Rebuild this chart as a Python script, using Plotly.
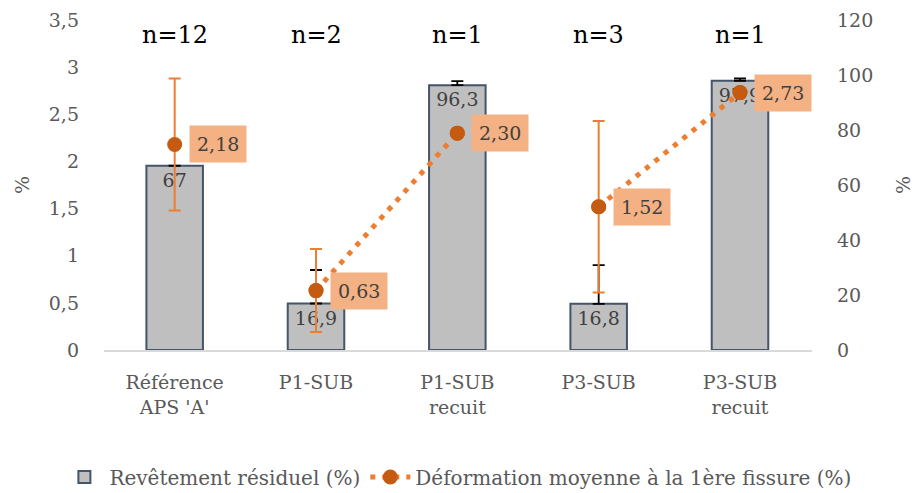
import plotly.graph_objects as go

categories = ["Référence<br>APS 'A'", "P1-SUB", "P1-SUB<br>recuit", "P3-SUB", "P3-SUB<br>recuit"]
n_counts = [12, 2, 1, 3, 1]
revetement = [67, 16.9, 96.3, 16.8, 97.9]
revetement_err = [0, 12.2, 1.5, 14.1, 0.9]
deformation = [2.18, 0.63, 2.30, 1.52, 2.73]
deformation_err = [0.70, 0.44, 0, 0.91, 0]
connected_pairs = [(1, 2), (3, 4)]

FONT = "DejaVu Serif"
GREY = "#595959"

def fr(v, nd):
    return f"{v:.{nd}f}".replace(".", ",")

fig = go.Figure()

fig.add_trace(go.Bar(
    x=categories, y=revetement, yaxis="y",
    name="Revêtement résiduel (%)",
    marker=dict(color="#BFBFBF", line=dict(color="#44546A", width=2)),
    width=0.4,
    text=[str(int(v)) if v == int(v) else fr(v, 1) for v in revetement],
    textposition="inside", insidetextanchor="end", constraintext="none",
    textfont=dict(family=FONT, size=19, color="#404040"),
    error_y=dict(type="data", symmetric=False, array=revetement_err,
                 arrayminus=[0] * len(revetement_err), color="black", thickness=1.8, width=6),
))

# dotted line only between connected pairs
lx, ly = [], []
for a, b in connected_pairs:
    if lx:
        lx.append(None); ly.append(None)
    lx += [categories[a], categories[b]]
    ly += [deformation[a], deformation[b]]

fig.add_trace(go.Scatter(
    x=lx, y=ly, yaxis="y2", mode="lines+markers", connectgaps=False,
    name="Déformation moyenne à la 1ère fissure (%)",
    line=dict(color="#ED7D31", width=5, dash="5px,7px"),
    marker=dict(color="#C55A11", size=15),
))

fig.add_trace(go.Scatter(
    x=categories, y=deformation, yaxis="y2", mode="markers", showlegend=False,
    marker=dict(color="#C55A11", size=15),
    error_y=dict(type="data", array=deformation_err, color="#ED7D31", thickness=2, width=6),
))

annotations = []
for c, v in zip(categories, deformation):
    annotations.append(dict(
        x=c, y=v, xref="x", yref="y2", text=fr(v, 2), showarrow=False,
        xanchor="left", yanchor="middle", xshift=14,
        bgcolor="#F4B183", borderpad=7,
        font=dict(family=FONT, size=19, color="#404040"),
    ))
for c, n in zip(categories, n_counts):
    annotations.append(dict(
        x=c, y=0.955, xref="x", yref="paper", text=f"n={n}", showarrow=False,
        xanchor="center", yanchor="middle",
        font=dict(family=FONT, size=24, color="black"),
    ))

fig.update_layout(
    width=915, height=493,
    margin=dict(l=104, r=103, t=20, b=143, autoexpand=False),
    paper_bgcolor="white", plot_bgcolor="white",
    font=dict(family=FONT, size=19, color=GREY),
    showlegend=True,
    legend=dict(orientation="h", x=-0.063, xanchor="left", y=-0.385, yanchor="middle",
                font=dict(family=FONT, size=20, color=GREY), itemwidth=40),
    xaxis=dict(type="category", showgrid=False, showline=True, linecolor="#D9D9D9", linewidth=2,
               ticks="", tickfont=dict(family=FONT, size=19, color=GREY), ticklabelstandoff=14,
               automargin=False),
    yaxis=dict(side="right", range=[0, 120], dtick=20, showgrid=False, zeroline=False, ticks="",
               tickfont=dict(family=FONT, size=19, color=GREY), ticklabelstandoff=24, automargin=False,
               title=dict(text="%", font=dict(family=FONT, size=19, color=GREY), standoff=24)),
    yaxis2=dict(side="left", overlaying="y", range=[0, 3.5], dtick=0.5, showgrid=False, zeroline=False,
                ticks="", tickfont=dict(family=FONT, size=19, color=GREY), ticklabelstandoff=24,
                automargin=False,
                title=dict(text="%", font=dict(family=FONT, size=19, color=GREY), standoff=14)),
    separators=", ",
    annotations=annotations,
    bargap=0.6,
)

fig.write_html("out.html", config={"displayModeBar": False},
               post_script="document.body.style.margin='0';")
